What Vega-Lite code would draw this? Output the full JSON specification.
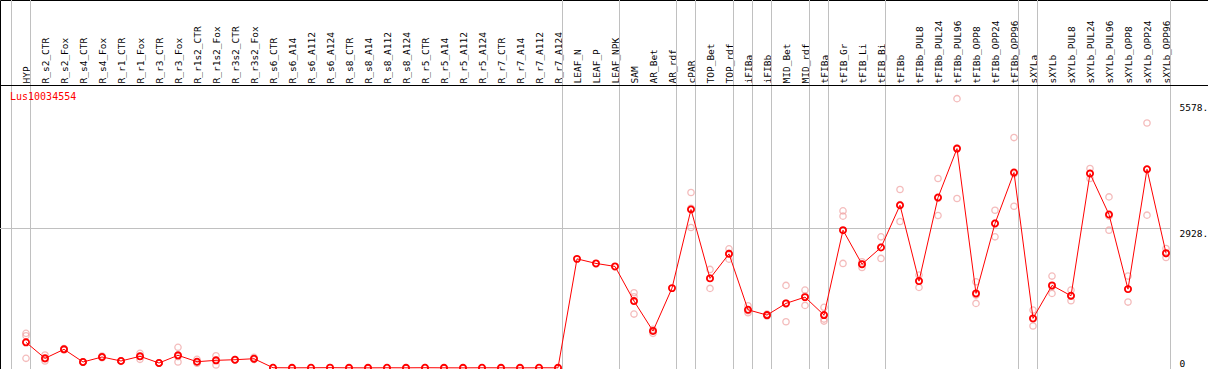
{
  "$schema": "https://vega.github.io/schema/vega-lite/v6.json",
  "width": 1208,
  "height": 369,
  "padding": 0,
  "autosize": "none",
  "background": "white",
  "config": {
    "view": {"stroke": "black", "strokeWidth": 1},
    "font": "DejaVu Sans Mono"
  },
  "title": {
    "text": "Lus10034554",
    "anchor": "start",
    "orient": "top",
    "frame": "group",
    "offset": -102,
    "dx": 10,
    "color": "#ff0000",
    "font": "DejaVu Sans Mono",
    "fontSize": 10,
    "fontWeight": "normal"
  },
  "datasets": {
    "means": [
      {"s": "HYP", "v": 539}, {"s": "R_s2_CTR", "v": 203}, {"s": "R_s2_Fox", "v": 392}, {"s": "R_s4_CTR", "v": 126},
      {"s": "R_s4_Fox", "v": 231}, {"s": "R_r1_CTR", "v": 147}, {"s": "R_r1_Fox", "v": 245}, {"s": "R_r3_CTR", "v": 105},
      {"s": "R_r3_Fox", "v": 266}, {"s": "R_r1s2_CTR", "v": 132}, {"s": "R_r1s2_Fox", "v": 161}, {"s": "R_r3s2_CTR", "v": 174},
      {"s": "R_r3s2_Fox", "v": 195}, {"s": "R_s6_CTR", "v": 6}, {"s": "R_s6_A14", "v": 4}, {"s": "R_s6_A112", "v": 5},
      {"s": "R_s6_A124", "v": 7}, {"s": "R_s8_CTR", "v": 4}, {"s": "R_s8_A14", "v": 3}, {"s": "R_s8_A112", "v": 5},
      {"s": "R_s8_A124", "v": 4}, {"s": "R_r5_CTR", "v": 6}, {"s": "R_r5_A14", "v": 4}, {"s": "R_r5_A112", "v": 3},
      {"s": "R_r5_A124", "v": 5}, {"s": "R_r7_CTR", "v": 4}, {"s": "R_r7_A14", "v": 3}, {"s": "R_r7_A112", "v": 5},
      {"s": "R_r7_A124", "v": 4}, {"s": "LEAF_N", "v": 2291}, {"s": "LEAF_P", "v": 2195}, {"s": "LEAF_NPK", "v": 2132},
      {"s": "SAM", "v": 1405}, {"s": "AR_Bet", "v": 776}, {"s": "AR_rdf", "v": 1677}, {"s": "cPAR", "v": 3327},
      {"s": "TOP_Bet", "v": 1881}, {"s": "TOP_rdf", "v": 2396}, {"s": "iFIBa", "v": 1222}, {"s": "iFIBb", "v": 1111},
      {"s": "MID_Bet", "v": 1356}, {"s": "MID_rdf", "v": 1488}, {"s": "tFIBa", "v": 1111}, {"s": "tFIB_Gr", "v": 2893},
      {"s": "tFIB_Li", "v": 2180}, {"s": "tFIB_Bi", "v": 2530}, {"s": "tFIBb", "v": 3417}, {"s": "tFIBb_PUL8", "v": 1824},
      {"s": "tFIBb_PUL24", "v": 3579}, {"s": "tFIBb_PUL96", "v": 4606}, {"s": "tFIBb_OPP8", "v": 1566}, {"s": "tFIBb_OPP24", "v": 3034},
      {"s": "tFIBb_OPP96", "v": 4103}, {"s": "sXYLa", "v": 1042}, {"s": "sXYLb", "v": 1734}, {"s": "sXYLb_PUL8", "v": 1516},
      {"s": "sXYLb_PUL24", "v": 4082}, {"s": "sXYLb_PUL96", "v": 3222}, {"s": "sXYLb_OPP8", "v": 1656}, {"s": "sXYLb_OPP24", "v": 4172},
      {"s": "sXYLb_OPP96", "v": 2411}
    ],
    "reps": [
      {"s": "HYP", "v": 727}, {"s": "HYP", "v": 677}, {"s": "HYP", "v": 203},
      {"s": "R_s2_CTR", "v": 273}, {"s": "R_s2_CTR", "v": 190}, {"s": "R_s2_CTR", "v": 147},
      {"s": "R_s2_Fox", "v": 398}, {"s": "R_s2_Fox", "v": 377}, {"s": "R_s2_Fox", "v": 409},
      {"s": "R_s4_CTR", "v": 125}, {"s": "R_s4_CTR", "v": 130}, {"s": "R_s4_CTR", "v": 122},
      {"s": "R_s4_Fox", "v": 252}, {"s": "R_s4_Fox", "v": 216}, {"s": "R_s4_Fox", "v": 224},
      {"s": "R_r1_CTR", "v": 150}, {"s": "R_r1_CTR", "v": 140}, {"s": "R_r1_CTR", "v": 152},
      {"s": "R_r1_Fox", "v": 308}, {"s": "R_r1_Fox", "v": 182}, {"s": "R_r1_Fox", "v": 245},
      {"s": "R_r3_CTR", "v": 100}, {"s": "R_r3_CTR", "v": 108}, {"s": "R_r3_CTR", "v": 106},
      {"s": "R_r3_Fox", "v": 434}, {"s": "R_r3_Fox", "v": 126}, {"s": "R_r3_Fox", "v": 238},
      {"s": "R_r1s2_CTR", "v": 182}, {"s": "R_r1s2_CTR", "v": 99}, {"s": "R_r1s2_CTR", "v": 115},
      {"s": "R_r1s2_Fox", "v": 258}, {"s": "R_r1s2_Fox", "v": 63}, {"s": "R_r1s2_Fox", "v": 163},
      {"s": "R_r3s2_CTR", "v": 170}, {"s": "R_r3s2_CTR", "v": 178}, {"s": "R_r3s2_CTR", "v": 174},
      {"s": "R_r3s2_Fox", "v": 224}, {"s": "R_r3s2_Fox", "v": 182}, {"s": "R_r3s2_Fox", "v": 180},
      {"s": "R_s6_CTR", "v": 8}, {"s": "R_s6_A14", "v": 5}, {"s": "R_s6_A112", "v": 6}, {"s": "R_s6_A124", "v": 9},
      {"s": "R_s8_CTR", "v": 5}, {"s": "R_s8_A14", "v": 4}, {"s": "R_s8_A112", "v": 6}, {"s": "R_s8_A124", "v": 5},
      {"s": "R_r5_CTR", "v": 8}, {"s": "R_r5_A14", "v": 5}, {"s": "R_r5_A112", "v": 4}, {"s": "R_r5_A124", "v": 6},
      {"s": "R_r7_CTR", "v": 5}, {"s": "R_r7_A14", "v": 4}, {"s": "R_r7_A112", "v": 6}, {"s": "R_r7_A124", "v": 5},
      {"s": "SAM", "v": 1579}, {"s": "SAM", "v": 1495}, {"s": "SAM", "v": 1132},
      {"s": "AR_Bet", "v": 811}, {"s": "AR_Bet", "v": 727}, {"s": "AR_Bet", "v": 776},
      {"s": "cPAR", "v": 3683}, {"s": "cPAR", "v": 2950}, {"s": "cPAR", "v": 3354},
      {"s": "TOP_Bet", "v": 2069}, {"s": "TOP_Bet", "v": 1671}, {"s": "TOP_Bet", "v": 1887},
      {"s": "TOP_rdf", "v": 2501}, {"s": "TOP_rdf", "v": 2405}, {"s": "TOP_rdf", "v": 2285},
      {"s": "iFIBa", "v": 1306}, {"s": "iFIBa", "v": 1159}, {"s": "iFIBa", "v": 1201},
      {"s": "iFIBb", "v": 1132}, {"s": "iFIBb", "v": 1090}, {"s": "iFIBb", "v": 1111},
      {"s": "MID_Bet", "v": 1734}, {"s": "MID_Bet", "v": 971}, {"s": "MID_Bet", "v": 1363},
      {"s": "MID_rdf", "v": 1635}, {"s": "MID_rdf", "v": 1314}, {"s": "MID_rdf", "v": 1509},
      {"s": "tFIBa", "v": 1273}, {"s": "tFIBa", "v": 1027}, {"s": "tFIBa", "v": 985},
      {"s": "tFIB_Gr", "v": 3298}, {"s": "tFIB_Gr", "v": 3187}, {"s": "tFIB_Gr", "v": 2195},
      {"s": "tFIB_Li", "v": 2111}, {"s": "tFIB_Li", "v": 2229}, {"s": "tFIB_Li", "v": 2180},
      {"s": "tFIB_Bi", "v": 2753}, {"s": "tFIB_Bi", "v": 2300}, {"s": "tFIB_Bi", "v": 2537},
      {"s": "tFIBb", "v": 3746}, {"s": "tFIBb", "v": 3075}, {"s": "tFIBb", "v": 3430},
      {"s": "tFIBb_PUL8", "v": 1950}, {"s": "tFIBb_PUL8", "v": 1692}, {"s": "tFIBb_PUL8", "v": 1830},
      {"s": "tFIBb_PUL24", "v": 3977}, {"s": "tFIBb_PUL24", "v": 3201}, {"s": "tFIBb_PUL24", "v": 3564},
      {"s": "tFIBb_PUL96", "v": 5654}, {"s": "tFIBb_PUL96", "v": 3558}, {"s": "tFIBb_PUL96", "v": 4612},
      {"s": "tFIBb_OPP8", "v": 1809}, {"s": "tFIBb_OPP8", "v": 1356}, {"s": "tFIBb_OPP8", "v": 1530},
      {"s": "tFIBb_OPP24", "v": 3312}, {"s": "tFIBb_OPP24", "v": 2753}, {"s": "tFIBb_OPP24", "v": 3040},
      {"s": "tFIBb_OPP96", "v": 4837}, {"s": "tFIBb_OPP96", "v": 3396}, {"s": "tFIBb_OPP96", "v": 4078},
      {"s": "sXYLa", "v": 1216}, {"s": "sXYLa", "v": 881}, {"s": "sXYLa", "v": 1027},
      {"s": "sXYLb", "v": 1929}, {"s": "sXYLb", "v": 1566}, {"s": "sXYLb", "v": 1709},
      {"s": "sXYLb_PUL8", "v": 1635}, {"s": "sXYLb_PUL8", "v": 1411}, {"s": "sXYLb_PUL8", "v": 1509},
      {"s": "sXYLb_PUL24", "v": 4187}, {"s": "sXYLb_PUL24", "v": 3977}, {"s": "sXYLb_PUL24", "v": 4082},
      {"s": "sXYLb_PUL96", "v": 3591}, {"s": "sXYLb_PUL96", "v": 2893}, {"s": "sXYLb_PUL96", "v": 3187},
      {"s": "sXYLb_OPP8", "v": 1929}, {"s": "sXYLb_OPP8", "v": 1384}, {"s": "sXYLb_OPP8", "v": 1656},
      {"s": "sXYLb_OPP24", "v": 5143}, {"s": "sXYLb_OPP24", "v": 3208}, {"s": "sXYLb_OPP24", "v": 4165},
      {"s": "sXYLb_OPP96", "v": 2509}, {"s": "sXYLb_OPP96", "v": 2321}, {"s": "sXYLb_OPP96", "v": 2400}
    ],
    "bounds": [
      {"s": "HYP"}, {"s": "R_r7_A124"}, {"s": "LEAF_NPK"}, {"s": "AR_rdf"}, {"s": "cPAR"}, {"s": "TOP_rdf"},
      {"s": "iFIBa"}, {"s": "iFIBb"}, {"s": "MID_rdf"}, {"s": "tFIBa"}, {"s": "tFIB_Bi"}, {"s": "tFIBb_OPP96"},
      {"s": "sXYLa"}, {"s": "sXYLb_OPP96"}
    ]
  },
  "layer": [
    {
      "data": {"name": "bounds"},
      "mark": {"type": "rule", "color": "#c0c0c0", "strokeWidth": 1, "xOffset": 4.5},
      "encoding": {
        "x": {
          "field": "s", "type": "ordinal",
          "scale": {
            "type": "point",
            "range": [26, 1166],
            "padding": 0,
            "domain": ["HYP","R_s2_CTR","R_s2_Fox","R_s4_CTR","R_s4_Fox","R_r1_CTR","R_r1_Fox","R_r3_CTR","R_r3_Fox","R_r1s2_CTR","R_r1s2_Fox","R_r3s2_CTR","R_r3s2_Fox","R_s6_CTR","R_s6_A14","R_s6_A112","R_s6_A124","R_s8_CTR","R_s8_A14","R_s8_A112","R_s8_A124","R_r5_CTR","R_r5_A14","R_r5_A112","R_r5_A124","R_r7_CTR","R_r7_A14","R_r7_A112","R_r7_A124","LEAF_N","LEAF_P","LEAF_NPK","SAM","AR_Bet","AR_rdf","cPAR","TOP_Bet","TOP_rdf","iFIBa","iFIBb","MID_Bet","MID_rdf","tFIBa","tFIB_Gr","tFIB_Li","tFIB_Bi","tFIBb","tFIBb_PUL8","tFIBb_PUL24","tFIBb_PUL96","tFIBb_OPP8","tFIBb_OPP24","tFIBb_OPP96","sXYLa","sXYLb","sXYLb_PUL8","sXYLb_PUL24","sXYLb_PUL96","sXYLb_OPP8","sXYLb_OPP24","sXYLb_OPP96"]
          },
          "axis": {
            "orient": "top",
            "offset": -85,
            "title": null,
            "domain": false,
            "ticks": false,
            "tickSize": 0,
            "grid": false,
            "labelAngle": -90,
            "labelAlign": "left",
            "labelBaseline": "middle",
            "labelPadding": 2,
            "labelFont": "DejaVu Sans Mono",
            "labelFontSize": 9.5,
            "labelColor": "#000000",
            "labelOverlap": false,
            "labelBound": false
          }
        }
      }
    },
    {
      "data": {"values": [{"s": "HYP"}]},
      "mark": {"type": "rule", "color": "#c0c0c0", "strokeWidth": 1, "xOffset": -14.5},
      "encoding": {"x": {"field": "s", "type": "ordinal"}}
    },
    {
      "data": {"values": [{"y": 2928}]},
      "mark": {"type": "rule", "color": "#c0c0c0", "strokeWidth": 1, "xOffset": -26, "x2Offset": 4.5},
      "encoding": {
        "y": {"field": "y", "type": "quantitative"},
        "x": {"datum": "HYP", "type": "ordinal"},
        "x2": {"datum": "sXYLb_OPP96"}
      }
    },
    {
      "data": {"values": [{"y": 5930}]},
      "mark": {"type": "rule", "color": "#000000", "strokeWidth": 1},
      "encoding": {"y": {"field": "y", "type": "quantitative"}}
    },
    {
      "data": {"name": "reps"},
      "mark": {"type": "point", "shape": "circle", "filled": false, "color": "#f0a0a0", "strokeWidth": 1.3, "size": 40},
      "encoding": {
        "x": {"field": "s", "type": "ordinal"},
        "y": {"field": "v", "type": "quantitative"}
      }
    },
    {
      "data": {"name": "means"},
      "layer": [
        {
          "mark": {"type": "line", "color": "#ff0000", "strokeWidth": 1},
          "encoding": {
            "x": {"field": "s", "type": "ordinal"},
            "y": {"field": "v", "type": "quantitative"}
          }
        },
        {
          "mark": {"type": "point", "shape": "circle", "filled": false, "color": "#ff0000", "strokeWidth": 1.8, "size": 38, "opacity": 1},
          "encoding": {
            "x": {"field": "s", "type": "ordinal"},
            "y": {
              "field": "v", "type": "quantitative",
              "scale": {"domain": [0, 5930], "range": [368, 85.5], "nice": false, "zero": false},
              "axis": {
                "orient": "right",
                "offset": -30,
                "title": null,
                "domain": false,
                "ticks": false,
                "tickSize": 0,
                "grid": false,
                "values": [0, 2928, 5578],
                "labelExpr": "datum.value == 0 ? '0' : datum.label + '.'",
                "format": "d",
                "labelAlign": "left",
                "labelBaseline": {"condition": {"test": "datum.value == 0", "value": "bottom"}, "value": "top"},
                "labelPadding": 1,
                "labelFont": "DejaVu Sans Mono",
                "labelFontSize": 9.5,
                "labelColor": "#000000",
                "labelOverlap": false,
                "labelBound": false,
                "labelFlush": false
              }
            }
          }
        }
      ]
    }
  ]
}
